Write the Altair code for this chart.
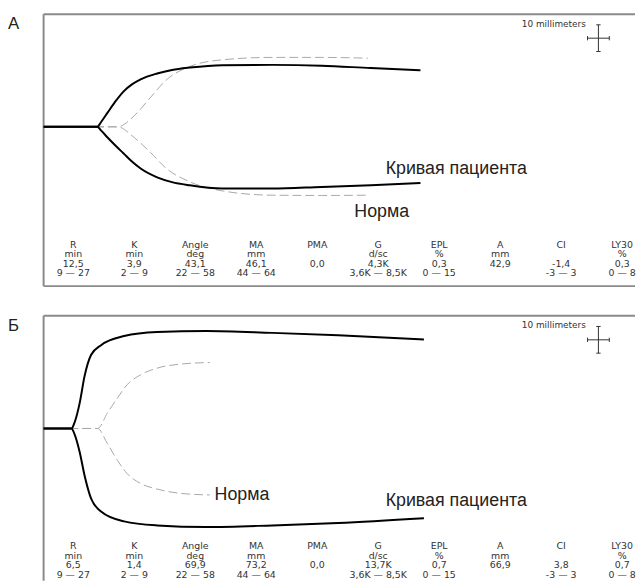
import altair as alt
import pandas as pd

# ---------------- data ----------------
# time in minutes, half-amplitude above / below the baseline in mm
A_pat_t  = [0, 12.3, 13.3, 14.7, 16.5, 18.4, 20.3, 22.3, 26.1, 29.5, 33.6, 41.1, 52.5, 63.9, 75.2, 86.6]
A_pat_up = [0, 0,    2.0,  5.3,  9.5,  13.3, 15.9, 17.8, 20.0, 21.3, 22.2, 23.1, 23.2, 22.9, 22.0, 21.2]
A_pat_dn = [0, 0,    1.5,  4.0,  7.0,  10.0, 13.0, 15.6, 18.9, 20.7, 21.9, 23.1, 23.1, 22.5, 21.9, 21.0]

A_nrm_t  = [0, 17.0, 20.8, 24.5, 28.3, 33.6, 41.1, 52.5, 63.9, 74.5]
A_nrm_up = [0, 0,    4.1,  10.9, 17.7, 22.6, 25.1, 26.0, 26.0, 25.7]
A_nrm_dn = [0, 0,    4.0,  9.5,  15.7, 20.6, 24.0, 25.6, 25.7, 25.6]

B_pat_t  = [0, 6.4, 7.1, 8.3, 9.4,  10.9, 13.2, 18.5, 26.1, 37.4, 52.6, 67.7, 87.4]
B_pat_up = [0, 0,   2.2, 9.6, 19.5, 27.5, 31.2, 34.6, 36.1, 36.5, 35.8, 34.9, 33.3]
B_pat_dn = [0, 0,   2.1, 8.9, 17.5, 26.2, 31.1, 34.8, 36.3, 36.9, 36.3, 35.4, 33.6]

B_nrm_t  = [0, 12.4, 14.7, 17.0, 19.2, 22.3, 26.1, 31.4, 38.2]
B_nrm_up = [0, 0,    5.9,  11.5, 16.4, 20.1, 22.6, 24.1, 24.7]
B_nrm_dn = [0, 0,    5.8,  12.0, 16.9, 20.6, 22.7, 24.3, 24.9]

params = ["R", "K", "Angle", "MA", "PMA", "G", "EPL", "A", "CI", "LY30"]
units  = ["min", "min", "deg", "mm", "", "d/sc", "%", "mm", "", "%"]
ranges = ["9 — 27", "2 — 9", "22 — 58", "44 — 64", "", "3,6K — 8,5K", "0 — 15", "", "-3 — 3", "0 — 8"]
A_vals = ["12,5", "3,9", "43,1", "46,1", "0,0", "4,3K", "0,3", "42,9", "-1,4", "0,3"]
B_vals = ["6,5", "1,4", "69,9", "73,2", "0,0", "13,7K", "0,7", "66,9", "3,8", "0,7"]

# ---------------- layout ----------------
PX_PER_MIN = 4.4
PX_PER_MM = 2.7
W = 598
X_MAX = W / PX_PER_MIN
TOP_MM = 42.2
H_A, H_B = 275, 268

def tmin(px):
    return px / PX_PER_MIN

def ymm(px_from_top):
    return TOP_MM - px_from_top / PX_PER_MM

LABEL_FONT = "Liberation Sans"
TABLE_FONT = "DejaVu Sans"


def curve_df(t, up, dn):
    rows = []
    for ti, u, d in zip(t, up, dn):
        rows.append({"t": ti, "a": u, "branch": "up"})
        rows.append({"t": ti, "a": -d, "branch": "dn"})
    return pd.DataFrame(rows)


def panel(letter, pat, nrm, vals, pat_label, nrm_label, height, bottom_border):
    ymin = TOP_MM - height / PX_PER_MM
    xs = alt.Scale(domain=[0, X_MAX], nice=False, zero=False)
    ys = alt.Scale(domain=[ymin, TOP_MM], nice=False, zero=False)

    # borders
    b = [{"x": 0, "x2": X_MAX, "y": TOP_MM, "y2": TOP_MM},
         {"x": 0, "x2": 0, "y": ymin, "y2": TOP_MM}]
    if bottom_border:
        b.append({"x": 0, "x2": X_MAX, "y": ymin, "y2": ymin})
    borders = alt.Chart(pd.DataFrame(b)).mark_rule(color="#8a8a8a", strokeWidth=2).encode(
        x=alt.X("x:Q", scale=xs, axis=None), x2="x2:Q",
        y=alt.Y("y:Q", scale=ys, axis=None), y2="y2:Q")

    norm = alt.Chart(curve_df(*nrm)).mark_line(
        color="#a8a8a8", strokeWidth=1, strokeDash=[9, 4], interpolate="monotone").encode(
        x=alt.X("t:Q", scale=xs, axis=None),
        y=alt.Y("a:Q", scale=ys, axis=None),
        detail="branch:N", order="t:Q")

    patient = alt.Chart(curve_df(*pat)).mark_line(
        color="black", strokeWidth=2, interpolate="monotone").encode(
        x=alt.X("t:Q", scale=xs, axis=None),
        y=alt.Y("a:Q", scale=ys, axis=None),
        detail="branch:N", order="t:Q")

    lab_df = pd.DataFrame([
        {"t": pat_label[0], "a": pat_label[1], "txt": "Кривая пациента"},
        {"t": nrm_label[0], "a": nrm_label[1], "txt": "Норма"},
    ])
    labels = alt.Chart(lab_df).mark_text(
        align="left", baseline="alphabetic", font=LABEL_FONT, fontSize=18, color="#222").encode(
        x=alt.X("t:Q", scale=xs, axis=None), y=alt.Y("a:Q", scale=ys, axis=None), text="txt:N")

    let = alt.Chart(pd.DataFrame([{"t": tmin(-36), "a": ymm(15), "txt": letter}])).mark_text(
        align="left", baseline="alphabetic", font=LABEL_FONT, fontSize=17, color="#222").encode(
        x=alt.X("t:Q", scale=xs, axis=None), y=alt.Y("a:Q", scale=ys, axis=None), text="txt:N")

    # 10 mm scale cross (10 mm vertical, 5 min = 10 mm horizontal)
    cx, cy = 127.5, 33.2
    seg = [
        {"x": cx - 2.5, "x2": cx + 2.5, "y": cy, "y2": cy},
        {"x": cx, "x2": cx, "y": cy - 5, "y2": cy + 5},
        {"x": cx - 2.5, "x2": cx - 2.5, "y": cy - 0.8, "y2": cy + 0.8},
        {"x": cx + 2.5, "x2": cx + 2.5, "y": cy - 0.8, "y2": cy + 0.8},
        {"x": cx - 0.5, "x2": cx + 0.5, "y": cy - 5, "y2": cy - 5},
        {"x": cx - 0.5, "x2": cx + 0.5, "y": cy + 5, "y2": cy + 5},
    ]
    cross = alt.Chart(pd.DataFrame(seg)).mark_rule(color="#333", strokeWidth=1).encode(
        x=alt.X("x:Q", scale=xs, axis=None), x2="x2:Q",
        y=alt.Y("y:Q", scale=ys, axis=None), y2="y2:Q")
    cross_txt = alt.Chart(pd.DataFrame([{"t": cx - 2.9, "a": ymm(9.5), "txt": "10 millimeters"}])).mark_text(
        align="right", baseline="middle", font=TABLE_FONT, fontSize=9, color="#333").encode(
        x=alt.X("t:Q", scale=xs, axis=None), y=alt.Y("a:Q", scale=ys, axis=None), text="txt:N")

    inner = alt.layer(borders, norm, patient, labels, let, cross, cross_txt)

    # parameter table
    trows = []
    for i, p in enumerate(params):
        for r, txt in enumerate([p, units[i], vals[i], ranges[i]]):
            if txt:
                trows.append({"col": p, "row": r, "txt": txt})
    table = alt.Chart(pd.DataFrame(trows)).mark_text(
        font=TABLE_FONT, fontSize=9.5, color="#333", baseline="middle").encode(
        x=alt.X("col:N", scale=alt.Scale(type="point", domain=params, range=[30, 585], padding=0), axis=None),
        y=alt.Y("row:O", scale=alt.Scale(type="point", domain=[0, 1, 2, 3], range=[233, 262], padding=0), axis=None),
        text="txt:N")

    return alt.layer(inner, table).resolve_scale(x="independent", y="independent").properties(
        width=W, height=height)


pA = panel("А", (A_pat_t, A_pat_up, A_pat_dn), (A_nrm_t, A_nrm_up, A_nrm_dn), A_vals,
           (78.6, -17.8), (71.4, -33.7), H_A, True)
pB = panel("Б", (B_pat_t, B_pat_up, B_pat_dn), (B_nrm_t, B_nrm_up, B_nrm_dn), B_vals,
           (78.6, -29.1), (39.3, -26.9), H_B, False)

chart = alt.vconcat(pA, pB, spacing=28).properties(
    padding={"left": 0, "top": 2, "right": 0, "bottom": 0},
    background="white",
).configure_view(stroke=None)

chart.save("out.html", embed_options={"renderer": "svg", "actions": False})
